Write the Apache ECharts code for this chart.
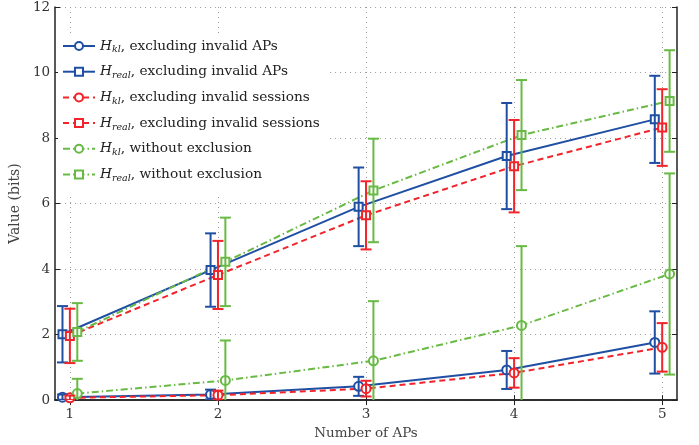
<!DOCTYPE html>
<html>
<head>
<meta charset="utf-8">
<script src="https://cdn.jsdelivr.net/npm/echarts@6/dist/echarts.min.js"></script>
<style>html,body{margin:0;padding:0;background:#fff}#c{width:699px;height:445px}</style>
</head>
<body>
<div id="c"></div>
<script>
// ---- data ----
const apCounts = [1, 2, 3, 4, 5];
const xTicks = [1, 2, 3, 4, 5];
const yTicks = [0, 2, 4, 6, 8, 10, 12];

const blueKlMean   = [0.09, 0.17, 0.42, 0.92, 1.76];
const blueKlStd    = [0.08, 0.15, 0.29, 0.58, 0.95];
const blueRealMean = [2.01, 3.97, 5.90, 7.45, 8.57];
const blueRealStd  = [0.86, 1.12, 1.20, 1.62, 1.33];

const redKlMean    = [0.07, 0.15, 0.35, 0.83, 1.61];
const redKlStd     = [0.07, 0.14, 0.24, 0.45, 0.74];
const redRealMean  = [1.96, 3.82, 5.64, 7.14, 8.32];
const redRealStd   = [0.83, 1.04, 1.04, 1.41, 1.17];

const greenKlMean   = [0.20, 0.60, 1.20, 2.28, 3.85];
const greenKlStd    = [0.45, 1.22, 1.82, 2.42, 3.07];
const greenRealMean = [2.08, 4.22, 6.40, 8.09, 9.13];
const greenRealStd  = [0.88, 1.35, 1.58, 1.68, 1.55];

const seriesNames = [
  'H_kl, excluding invalid APs',
  'H_real, excluding invalid APs',
  'H_kl, excluding invalid sessions',
  'H_real, excluding invalid sessions',
  'H_kl, without exclusion',
  'H_real, without exclusion'
];
const legendSub = ['kl', 'real', 'kl', 'real', 'kl', 'real'];
const legendRest = [', excluding invalid APs', ', excluding invalid APs',
  ', excluding invalid sessions', ', excluding invalid sessions',
  ', without exclusion', ', without exclusion'];

// ---- styles ----
const BLUE = '#1f4fa3', RED = '#f0242a', GREEN = '#68ba44';
const FONT = 'DejaVu Serif';
const groupOffset = [-0.05, 0, 0.05];

const defs = [
  {mean: blueKlMean, std: blueKlStd, color: BLUE, g: 0, sym: 'emptyCircle', size: 9, type: 'solid'},
  {mean: blueRealMean, std: blueRealStd, color: BLUE, g: 0, sym: 'emptyRect', size: 8, type: 'solid'},
  {mean: redKlMean, std: redKlStd, color: RED, g: 1, sym: 'emptyCircle', size: 9, type: [6, 4]},
  {mean: redRealMean, std: redRealStd, color: RED, g: 1, sym: 'emptyRect', size: 8, type: [6, 4]},
  {mean: greenKlMean, std: greenKlStd, color: GREEN, g: 2, sym: 'emptyCircle', size: 9, type: [7, 3, 1.5, 3]},
  {mean: greenRealMean, std: greenRealStd, color: GREEN, g: 2, sym: 'emptyRect', size: 8, type: [7, 3, 1.5, 3]}
];

const series = [];
defs.forEach((d, i) => {
  const off = groupOffset[d.g];
  series.push({
    name: seriesNames[i],
    type: 'line',
    data: apCounts.map((x, k) => [x + off, d.mean[k]]),
    symbol: d.sym,
    symbolSize: d.size,
    showAllSymbol: true,
    lineStyle: {color: d.color, width: 2, type: d.type},
    itemStyle: {color: d.color, borderColor: d.color, borderWidth: 1.6},
    emphasis: {disabled: true},
    animation: false,
    z: 3
  });
  series.push({
    name: seriesNames[i] + ' err',
    type: 'custom',
    clip: true,
    animation: false,
    z: 4,
    data: apCounts.map((x, k) => [x + off, d.mean[k] - d.std[k], d.mean[k] + d.std[k]]),
    renderItem: function (params, api) {
      const lo = api.coord([api.value(0), api.value(1)]);
      const hi = api.coord([api.value(0), api.value(2)]);
      const hw = 5.5;
      const st = {stroke: d.color, lineWidth: 2, fill: null};
      return {
        type: 'group',
        children: [
          {type: 'line', shape: {x1: lo[0], y1: lo[1], x2: hi[0], y2: hi[1]}, style: st},
          {type: 'line', shape: {x1: lo[0] - hw, y1: lo[1], x2: lo[0] + hw, y2: lo[1]}, style: st},
          {type: 'line', shape: {x1: hi[0] - hw, y1: hi[1], x2: hi[0] + hw, y2: hi[1]}, style: st}
        ]
      };
    }
  });
});

const axisLineStyle = {color: '#222', width: 1.5};
const gridLine = {show: true, lineStyle: {color: '#999', width: 1, type: [1, 4]}};

const option = {
  backgroundColor: '#fff',
  animation: false,
  grid: {left: 54, right: 22, top: 6, bottom: 42.5, containLabel: false},
  legend: {
    data: seriesNames,
    orient: 'vertical',
    left: 58,
    top: 35,
    padding: [4, 10, 10, 4],
    backgroundColor: '#fff',
    itemWidth: 32,
    itemHeight: 10,
    itemGap: 9.7,
    selectedMode: false,
    textStyle: {
      fontFamily: FONT, fontSize: 13.7, color: '#222',
      rich: {
        h: {fontFamily: FONT, fontSize: 13.7, fontStyle: 'italic', color: '#222', height: 18, verticalAlign: 'middle'},
        s: {fontFamily: FONT, fontSize: 9.5, fontStyle: 'italic', color: '#222', verticalAlign: 'bottom', padding: [8, 0, 0, 0]},
        t: {fontFamily: FONT, fontSize: 13.7, color: '#222', verticalAlign: 'middle'}
      }
    },
    formatter: function (name) {
      const i = seriesNames.indexOf(name);
      return '{h|H}{s|' + legendSub[i] + '}{t|' + legendRest[i] + '}';
    }
  },
  xAxis: [{
    type: 'value', min: 0.9, max: 5.1,
    name: 'Number of APs', nameLocation: 'middle', nameGap: 25,
    nameTextStyle: {fontFamily: FONT, fontSize: 13.5, color: '#444'},
    axisLine: {show: true, lineStyle: axisLineStyle},
    axisTick: {show: true, inside: true, length: 5, customValues: xTicks, lineStyle: {color: '#222'}},
    axisLabel: {customValues: xTicks, fontFamily: FONT, fontSize: 13.5, color: '#333', margin: 7},
    splitLine: gridLine
  }, {
    type: 'value', min: 0.9, max: 5.1, position: 'top',
    axisLine: {show: true, lineStyle: axisLineStyle},
    axisTick: {show: true, inside: true, length: 5, customValues: xTicks, lineStyle: {color: '#222'}},
    axisLabel: {show: false, customValues: xTicks},
    splitLine: {show: false}
  }],
  yAxis: [{
    type: 'value', min: 0, max: 12, interval: 2,
    name: 'Value (bits)', nameLocation: 'middle', nameGap: 22,
    nameTextStyle: {fontFamily: FONT, fontSize: 14, color: '#444'},
    axisLine: {show: true, lineStyle: axisLineStyle},
    axisTick: {show: true, inside: true, length: 5, lineStyle: {color: '#222'}},
    axisLabel: {fontFamily: FONT, fontSize: 13.5, color: '#333', margin: 5},
    splitLine: gridLine
  }, {
    type: 'value', min: 0, max: 12, interval: 2, position: 'right',
    axisLine: {show: true, lineStyle: axisLineStyle},
    axisTick: {show: true, inside: true, length: 5, lineStyle: {color: '#222'}},
    axisLabel: {show: false},
    splitLine: {show: false}
  }],
  series: series
};

const chart = echarts.init(document.getElementById('c'), null, {renderer: 'canvas'});
chart.setOption(option);
</script>
</body>
</html>
